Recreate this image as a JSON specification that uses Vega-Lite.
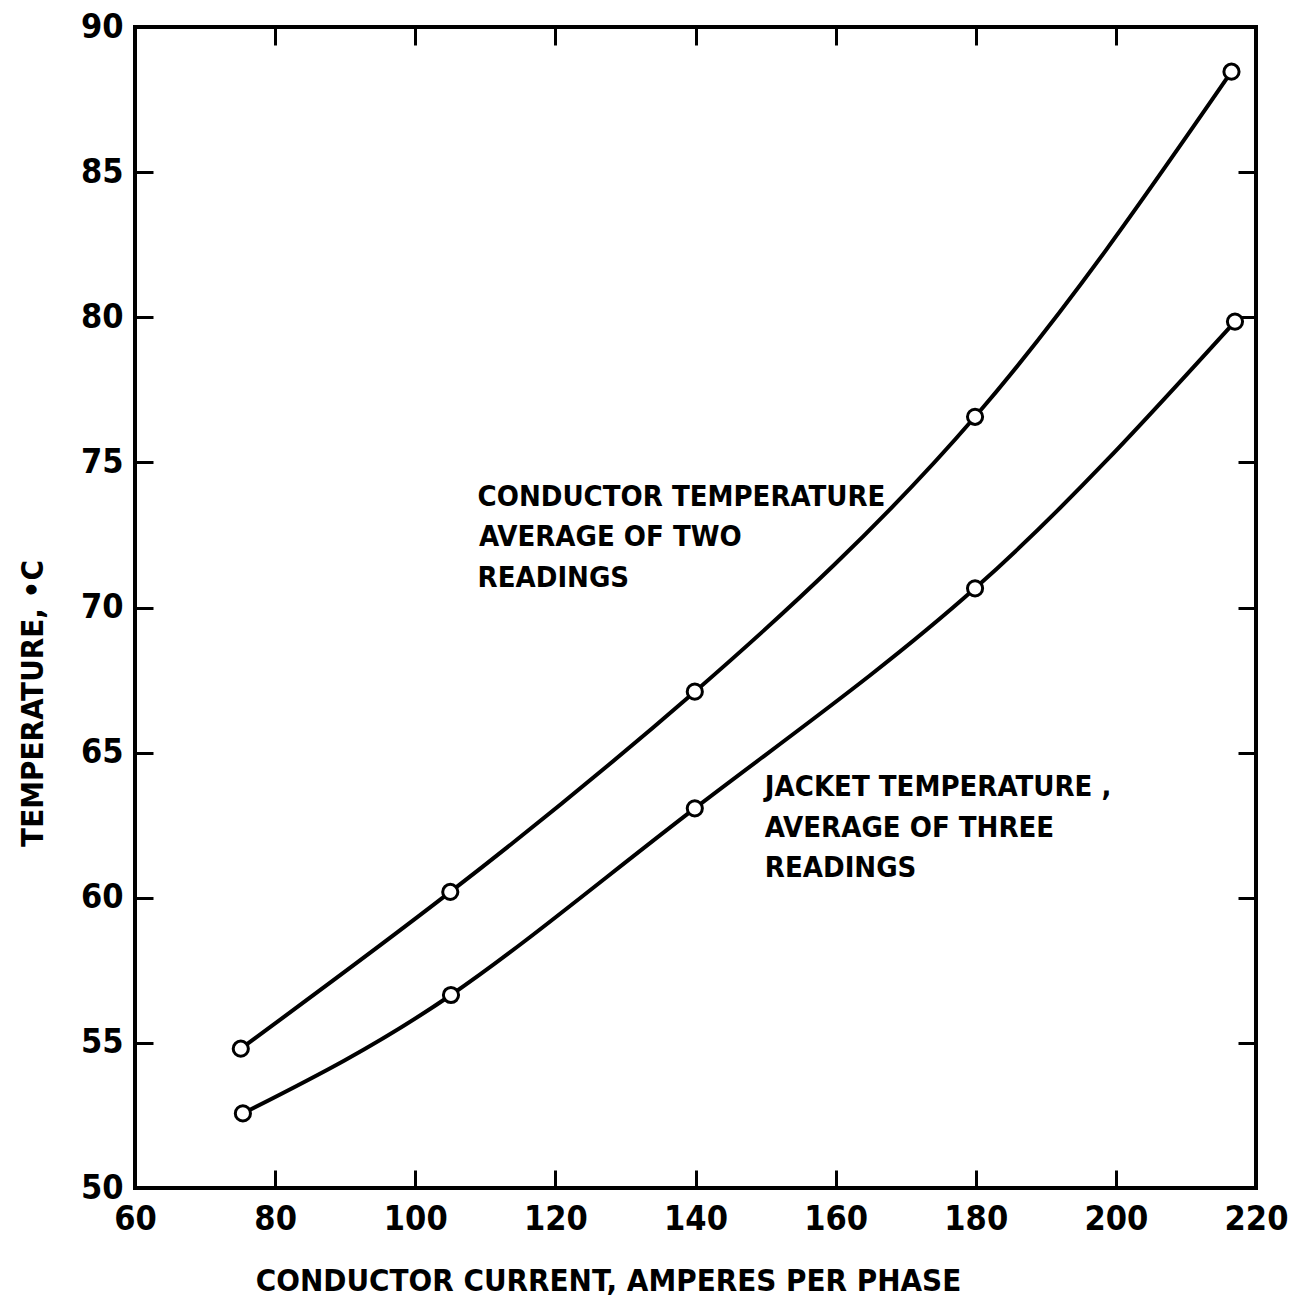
{
  "$schema": "https://vega.github.io/schema/vega-lite/v6.json",
  "width": 1121,
  "height": 1161,
  "autosize": {"type": "none"},
  "padding": {"left": 135, "top": 27, "right": 44, "bottom": 111},
  "background": "white",
  "config": {
    "view": {"stroke": "black", "strokeWidth": 4},
    "font": "DejaVu Sans Condensed, DejaVu Sans, sans-serif",
    "axis": {"grid": false, "domain": false, "tickColor": "black", "tickWidth": 3, "labelColor": "black", "titleColor": "black", "labelFlush": false, "labelOverlap": false}
  },
  "datasets": {
    "points": [
      {"series": "Conductor", "current": 75.1, "temp": 54.8},
      {"series": "Conductor", "current": 105.0, "temp": 60.2},
      {"series": "Conductor", "current": 139.9, "temp": 67.1},
      {"series": "Conductor", "current": 179.9, "temp": 76.57},
      {"series": "Conductor", "current": 216.5, "temp": 88.46},
      {"series": "Jacket", "current": 75.4, "temp": 52.57},
      {"series": "Jacket", "current": 105.1, "temp": 56.65},
      {"series": "Jacket", "current": 139.9, "temp": 63.08},
      {"series": "Jacket", "current": 179.9, "temp": 70.66},
      {"series": "Jacket", "current": 217.0, "temp": 79.85}
    ],
    "notes": [
      {"x": 108.9, "y": 73.81, "label": "CONDUCTOR TEMPERATURE"},
      {"x": 109.1, "y": 72.43, "label": "AVERAGE OF TWO"},
      {"x": 108.9, "y": 71.02, "label": "READINGS"},
      {"x": 149.9, "y": 63.82, "label": "JACKET TEMPERATURE ,"},
      {"x": 149.9, "y": 62.4, "label": "AVERAGE OF THREE"},
      {"x": 149.9, "y": 61.03, "label": "READINGS"}
    ]
  },
  "layer": [
    {
      "data": {"name": "points"},
      "mark": {"type": "line", "interpolate": "natural", "color": "black", "strokeWidth": 4},
      "encoding": {
        "x": {
          "field": "current", "type": "quantitative",
          "scale": {"domain": [60, 220], "nice": false, "zero": false},
          "axis": {
            "orient": "bottom",
            "values": [60, 80, 100, 120, 140, 160, 180, 200, 220],
            "tickSize": -18,
            "labelPadding": 32,
            "labelFontSize": 34,
            "labelFontWeight": "bold",
            "title": "CONDUCTOR CURRENT, AMPERES PER PHASE",
            "titleFontSize": 31,
            "titleFontWeight": "bold",
            "titleX": 473,
            "titleY": 102,
            "titleAlign": "center",
            "titleBaseline": "alphabetic"
          }
        },
        "y": {
          "field": "temp", "type": "quantitative",
          "scale": {"domain": [50, 90], "nice": false, "zero": false},
          "axis": {
            "orient": "left",
            "values": [50, 55, 60, 65, 70, 75, 80, 85, 90],
            "tickSize": -18,
            "labelPadding": 30,
            "labelFontSize": 34,
            "labelFontWeight": "bold",
            "title": "TEMPERATURE, •C",
            "titleFontSize": 31,
            "titleFontWeight": "bold",
            "titleX": -102,
            "titleY": 676,
            "titleAlign": "center",
            "titleBaseline": "middle",
            "titleAngle": -90
          }
        },
        "detail": {"field": "series", "type": "nominal"}
      }
    },
    {
      "data": {"name": "points"},
      "mark": {"type": "point", "shape": "circle", "filled": true, "fill": "white", "stroke": "black", "strokeWidth": 3, "size": 230, "opacity": 1},
      "encoding": {
        "x": {
          "field": "current", "type": "quantitative",
          "axis": {"orient": "top", "values": [80, 100, 120, 140, 160, 180, 200], "tickSize": -18, "labels": false, "title": null}
        },
        "y": {
          "field": "temp", "type": "quantitative",
          "axis": {"orient": "right", "values": [55, 60, 65, 70, 75, 80, 85], "tickSize": -18, "labels": false, "title": null}
        }
      }
    },
    {
      "data": {"name": "notes"},
      "mark": {"type": "text", "align": "left", "baseline": "middle", "fontSize": 29, "fontWeight": "bold", "color": "black"},
      "encoding": {
        "x": {"field": "x", "type": "quantitative", "axis": null},
        "y": {"field": "y", "type": "quantitative", "axis": null},
        "text": {"field": "label"}
      }
    }
  ],
  "resolve": {"axis": {"x": "independent", "y": "independent"}}
}
